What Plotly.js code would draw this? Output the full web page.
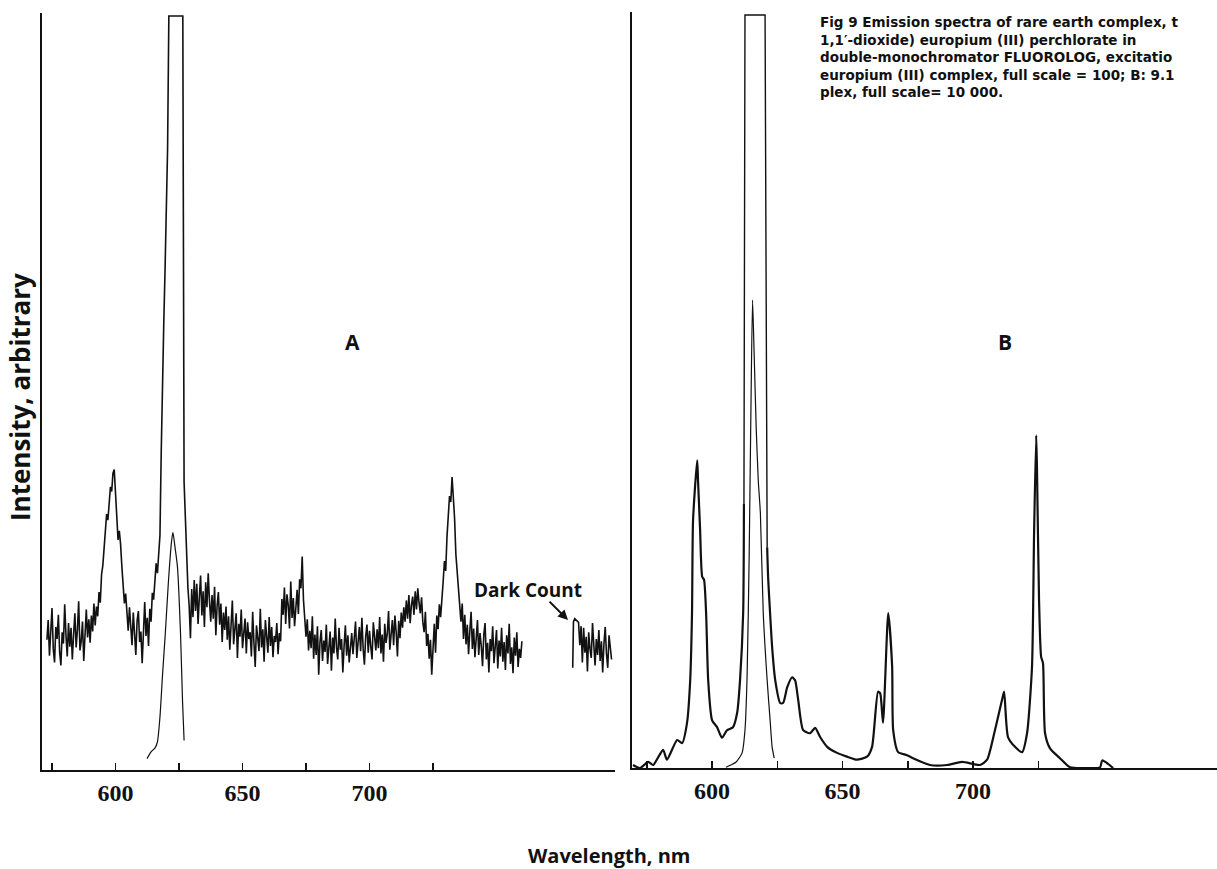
<!DOCTYPE html>
<html>
<head>
<meta charset="utf-8">
<script src="https://cdn.plot.ly/plotly-3.0.1.min.js"></script>
<style>html,body{margin:0;padding:0;background:#fff}#chart{width:1217px;height:869px}</style>
</head>
<body>
<div id="chart"></div>
<script>
// ---------- Panel A : noisy spectrum (sampled every 0.5 nm from 573 nm) ----------
const aNoisyStart = 573.0;
const aNoisyStep = 0.5;
const aNoisyVal = [
 17.2,19.8,15.1,18.6,21.4,16.0,14.2,18.9,17.3,20.5,15.6,13.8,18.2,16.7,21.9,17.8,15.0,19.4,16.3,18.8,
 14.6,17.9,20.7,16.2,18.5,22.3,15.8,17.0,19.6,14.4,18.1,21.2,17.5,19.9,16.8,20.4,18.3,22.0,19.1,21.6,
 20.3,23.5,22.1,25.8,27.0,29.5,31.2,33.8,33.0,35.9,37.4,36.8,39.2,39.7,36.5,33.1,30.4,31.6,29.8,26.9,
 24.5,22.0,23.3,20.6,18.4,21.5,19.0,16.5,20.8,17.6,15.2,19.7,21.0,16.9,18.3,14.1,19.4,22.2,17.7,20.1,
 16.4,21.3,19.6,23.4,22.5,25.6,27.3,26.0,28.0,31.0,42.0,52.0,59.0,66.0,73.0,82.0,99.6,99.6,99.6,99.6,
 99.6,99.6,99.6,99.6,99.6,99.6,99.6,99.6,38.0,32.5,26.8,24.1,21.7,17.4,23.9,20.2,25.1,21.0,24.6,19.3,
 22.8,25.7,20.4,23.6,18.9,24.8,21.5,26.0,22.3,19.6,23.1,20.0,24.2,17.8,21.7,23.5,19.2,22.0,16.9,20.8,
 18.5,21.6,17.2,20.3,15.9,19.8,22.4,16.6,18.9,20.7,14.8,19.3,17.6,21.2,16.1,18.7,20.0,15.4,19.5,17.3,
 18.2,15.0,20.9,16.8,13.6,19.1,17.4,15.7,21.3,16.2,18.6,14.3,19.8,17.0,15.5,20.2,16.4,18.9,14.9,17.7,
 16.9,19.4,15.3,18.1,17.0,22.6,20.5,24.1,19.3,23.2,21.8,18.7,24.9,20.1,22.7,19.0,21.4,23.8,20.6,25.2,
 24.0,28.2,22.5,20.1,17.6,19.9,15.8,18.4,16.1,20.3,14.7,17.9,15.2,19.0,12.6,16.9,18.5,14.4,17.1,15.6,
 19.2,14.0,16.7,18.3,13.1,17.5,15.4,20.0,16.2,14.6,18.8,15.9,17.3,12.9,16.4,19.1,15.1,17.8,14.2,16.9,
 18.1,15.3,17.2,19.6,14.8,16.5,18.9,15.7,20.1,16.0,13.9,17.7,19.2,15.5,18.4,16.3,14.6,19.5,17.0,15.8,
 18.6,16.1,20.2,15.4,17.9,14.3,19.3,16.8,18.0,21.0,15.9,17.6,19.8,16.5,20.4,18.2,15.0,19.7,17.4,20.8,
 18.8,21.5,19.6,22.4,20.0,23.1,19.4,21.8,22.9,20.5,23.6,21.2,24.0,22.1,20.7,22.8,19.5,18.2,20.9,16.4,
 18.0,14.7,17.2,12.6,16.8,19.3,15.5,20.4,18.6,21.9,20.2,23.3,24.9,27.6,26.3,30.8,33.5,36.2,35.4,38.7,
 36.0,33.2,28.5,26.0,23.4,21.0,19.6,22.0,17.3,20.5,16.6,19.2,15.3,18.4,20.9,16.0,18.7,14.9,17.5,19.8,
 15.2,18.1,16.4,13.7,17.9,19.4,14.6,16.8,12.9,17.3,15.7,19.0,14.1,16.6,18.5,13.4,17.1,15.0,18.8,14.3,
 16.9,13.2,17.8,15.4,19.3,14.0,16.2,12.8,17.5,15.1,18.2,13.6,16.0,14.8,17.0
];
const aNoisyWl = aNoisyVal.map((_, i) => aNoisyStart + i * aNoisyStep);

// Panel A : dark count segment
const aDarkWl  = [780.0,780.3,780.8,781.5,782.3,782.8,783.3,783.8,784.3,784.8,785.3,785.8,786.3,786.8,787.3,787.8,788.3,788.8,789.3,789.8,790.3,790.8,791.3,791.8,792.3,792.8,793.3,793.8,794.3,794.8,795.3];
const aDarkVal = [13.5,19.6,20.0,19.8,19.5,16.5,19.0,14.2,18.8,15.5,17.6,13.0,18.2,16.0,14.8,19.4,16.6,13.8,17.3,15.2,18.5,14.4,17.0,12.9,16.7,18.9,15.3,13.5,17.8,15.9,14.6];

// Panel A : smooth narrow peak
const aPeakWl  = [612.4,614.0,615.5,616.5,617.5,618.5,619.6,620.8,622.0,622.6,623.4,624.4,625.6,626.4,627.0];
const aPeakVal = [1.5,2.4,2.9,3.7,7.0,12.5,18.0,24.7,30.0,31.4,29.5,26.8,18.0,9.0,3.9];

// ---------- Panel B ----------
const bMainWl = [569.7,572.4,575.5,577.4,581.2,582.7,586.6,588.5,590.4,591.6,592.3,592.7,594.3,594.6,595.4,596.2,596.9,597.7,598.5,600.0,
 601.9,603.8,605.7,608.0,609.6,610.7,611.9,612.2,612.6,620.3,620.7,621.1,621.5,622.3,623.0,624.2,626.1,627.2,628.8,630.7,
 631.8,633.0,634.9,637.5,639.5,641.4,644.1,647.9,651.7,655.5,659.4,661.3,663.6,664.4,665.5,667.5,669.0,669.4,671.3,674.7,
 677.0,683.5,690.1,695.8,702.7,705.4,708.4,711.1,711.9,713.4,716.1,718.8,720.7,722.6,723.4,724.2,724.5,725.3,726.1,726.8,
 727.6,729.5,733.3,737.2,743.7,748.7,749.5,753.7];
const bMainVal = [0.4,0.0,0.8,0.4,2.4,1.1,3.7,3.3,6.0,11.6,20.5,32.8,40.7,38.1,31.5,25.3,24.9,20.5,11.6,6.3,
 5.4,4.0,5.0,5.4,7.3,11.6,20.5,35.0,99.6,99.6,45.0,29.2,25.0,20.0,16.0,11.6,8.6,8.6,10.7,12.0,
 11.6,9.0,5.0,4.6,5.3,4.1,2.8,2.0,1.5,1.1,1.5,2.8,10.1,9.9,6.0,20.5,13.4,5.0,2.1,1.7,
 1.3,0.4,0.4,0.8,0.4,1.1,5.0,9.0,10.1,4.1,2.8,2.1,4.6,13.4,31.1,44.0,39.8,22.2,14.7,13.9,
 4.6,2.6,1.3,0.1,0.0,0.1,1.0,0.0];

const bPeakWl  = [605.3,609.2,611.5,612.6,613.4,614.2,614.9,615.5,616.1,616.9,617.7,618.5,619.6,621.1,622.3,623.0,623.8];
const bPeakVal = [0.1,0.8,2.0,5.0,12.0,28.0,48.0,61.9,55.0,45.0,38.0,33.7,20.5,11.6,6.0,2.8,1.3];

// ---------- Axis ticks ----------
const majorTicks = [600, 650, 700];
const majorLabels = ['600', '650', '700'];
const minorTicks = [575, 625, 675, 725];

const captionLines = [
 'Fig 9 Emission spectra of rare earth complex, t',
 '1,1\u2032-dioxide) europium (III) perchlorate in',
 'double-monochromator FLUOROLOG, excitatio',
 'europium (III) complex, full scale = 100; B: 9.1',
 'plex, full scale= 10 000.'
];

const sans = '"Open Sans", Lato, sans-serif';
const ink = '#111';
const line = (w, shape) => ({color: ink, width: w, shape: shape || 'linear', smoothing: 0.6});

// the clipped rectangle of B is drawn straight, the rest smoothly
const rectStart = 27, rectEnd = 31;

const traces = [
  {x: aNoisyWl, y: aNoisyVal, xaxis: 'x', yaxis: 'y', mode: 'lines', line: line(1.6)},
  {x: aDarkWl, y: aDarkVal, xaxis: 'x', yaxis: 'y', mode: 'lines', line: line(1.6)},
  {x: aPeakWl, y: aPeakVal, xaxis: 'x', yaxis: 'y', mode: 'lines', line: line(1.2, 'spline')},
  {x: bMainWl.slice(0, rectStart + 1), y: bMainVal.slice(0, rectStart + 1), xaxis: 'x2', yaxis: 'y2', mode: 'lines', line: line(2.2, 'spline')},
  {x: bMainWl.slice(rectStart, rectEnd + 1), y: bMainVal.slice(rectStart, rectEnd + 1), xaxis: 'x2', yaxis: 'y2', mode: 'lines', line: line(1.4)},
  {x: bMainWl.slice(rectEnd), y: bMainVal.slice(rectEnd), xaxis: 'x2', yaxis: 'y2', mode: 'lines', line: line(2.2, 'spline')},
  {x: bPeakWl, y: bPeakVal, xaxis: 'x2', yaxis: 'y2', mode: 'lines', line: line(1.2, 'spline')}
].map(t => Object.assign(t, {hoverinfo: 'skip', showlegend: false}));

const xCommon = {
  showline: true, linecolor: ink, linewidth: 2, showgrid: false, zeroline: false,
  ticks: 'inside', ticklen: 7, tickwidth: 1.5, tickcolor: ink,
  tickmode: 'array', tickvals: majorTicks, ticktext: majorLabels,
  minor: {tickmode: 'array', tickvals: minorTicks, ticks: 'inside', ticklen: 7, tickwidth: 1.5, tickcolor: ink},
  tickfont: {family: '"Liberation Serif", serif', size: 24, color: ink, weight: 'bold'},
  fixedrange: true
};
const yCommon = {
  showline: true, linecolor: ink, linewidth: 2, showgrid: false, zeroline: false,
  showticklabels: false, ticks: '', range: [0, 100], fixedrange: true
};

const txt = (text, px, py, size, extra) => Object.assign({
  text: text, xref: 'paper', yref: 'paper', x: px / 1217, y: 1 - py / 869,
  xanchor: 'center', yanchor: 'middle', showarrow: false,
  font: {family: sans, size: size, color: ink, weight: 'bold'}
}, extra || {});

const annotations = [
  txt('A', 352, 342, 21),
  txt('B', 1005, 342, 21),
  txt('Dark Count', 528, 590, 19),
  txt('Wavelength, nm', 609, 855, 20),
  txt('Intensity, arbitrary', 20, 397, 26, {textangle: -90}),
  {text: '', xref: 'x', yref: 'y', x: 778.15, y: 19.8, ax: -20, ay: -20, showarrow: true, arrowhead: 2, arrowsize: 1, arrowwidth: 2, arrowcolor: ink},
  txt(captionLines.join('<br>'), 818, 12, 13.5, {xanchor: 'left', yanchor: 'top', align: 'left',
      font: {family: '"DejaVu Sans", sans-serif', size: 13.5, color: ink, weight: 'bold'}})
];

const layout = {
  width: 1217, height: 869,
  margin: {l: 0, r: 0, t: 0, b: 0},
  paper_bgcolor: '#fff', plot_bgcolor: 'rgba(0,0,0,0)',
  showlegend: false,
  xaxis: Object.assign({}, xCommon, {domain: [0.03451, 0.50534], range: [571.06, 796.65], anchor: 'y'}),
  yaxis: Object.assign({}, yCommon, {domain: [0.11392, 0.98504], anchor: 'x'}),
  xaxis2: Object.assign({}, xCommon, {domain: [0.51931, 1], range: [569.3, 793.5], anchor: 'y2'}),
  yaxis2: Object.assign({}, yCommon, {domain: [0.11622, 0.98619], anchor: 'x2'}),
  annotations: annotations
};

Plotly.newPlot('chart', traces, layout, {displayModeBar: false, staticPlot: true});
</script>
</body>
</html>
